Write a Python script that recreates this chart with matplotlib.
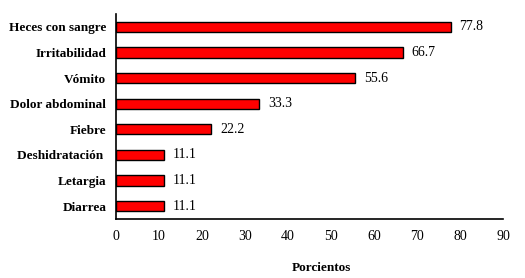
import matplotlib
matplotlib.use('Agg')
import matplotlib.pyplot as plt

# Datos: síntomas y porcentajes
sintomas = ['Heces con sangre', 'Irritabilidad', 'Vómito', 'Dolor abdominal',
            'Fiebre', 'Deshidratación ', 'Letargia', 'Diarrea']
porcientos = [77.8, 66.7, 55.6, 33.3, 22.2, 11.1, 11.1, 11.1]
xticks = [0, 10, 20, 30, 40, 50, 60, 70, 80, 90]

plt.rcParams['font.family'] = ['Liberation Serif', 'DejaVu Serif']

fig = plt.figure(figsize=(5.25, 2.78), dpi=100)
ax = fig.add_axes([116/525, 1 - 219/278, (503-116)/525, (219-14)/278])

pos = list(range(len(sintomas)))
ax.barh(pos, porcientos, height=0.4, color='#ff0000', edgecolor='black', linewidth=1)
for p, v in zip(pos, porcientos):
    ax.text(v + 2, p, f'{v:.1f}', va='center', ha='left', fontsize=10)

ax.set_ylim(len(sintomas) - 0.5, -0.5)
ax.set_xlim(0, 90)
ax.set_xticks(xticks)
ax.set_yticks(pos)
ax.set_yticklabels(sintomas, fontweight='bold', fontsize=9.5)
ax.tick_params(axis='both', length=0, labelsize=10)
ax.tick_params(axis='y', labelsize=9.5, pad=7)
ax.tick_params(axis='x', pad=8)
for s in ['top', 'right']:
    ax.spines[s].set_visible(False)
for s in ['left', 'bottom']:
    ax.spines[s].set_linewidth(1.2)
ax.set_xlabel('Porcientos', fontweight='bold', fontsize=9.5, va='center')
ax.xaxis.set_label_coords(0.53, -0.24)

fig.savefig('out.png', dpi=100)
